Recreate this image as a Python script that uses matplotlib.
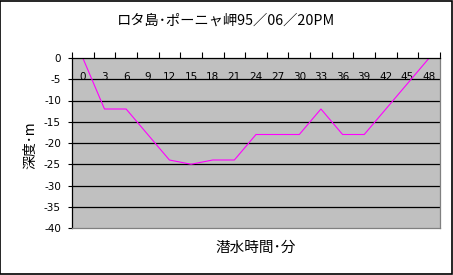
import matplotlib.pyplot as plt
from matplotlib.patches import Rectangle

# data
minutes = ["0", "3", "6", "9", "12", "15", "18", "21", "24", "27", "30",
           "33", "36", "39", "42", "45", "48"]
depth = [0, -12, -12, -18, -24, -25, -24, -24, -18, -18, -18, -12, -18,
         -18, -12, -6, 0]
y_ticks = [0, -5, -10, -15, -20, -25, -30, -35, -40]

title = "ロタ島･ポーニャ岬95／06／20PM"
xlabel = "潜水時間･分"
ylabel = "深度･m"


def main() -> None:
    plt.rcParams["font.family"] = ["Noto Sans CJK JP", "DejaVu Sans"]
    fig = plt.figure(figsize=(4.53, 2.75), dpi=100)
    fig.patch.set_facecolor("white")
    ax = fig.add_axes([72 / 453, 1 - 228 / 275, 368 / 453, 170 / 275])
    ax.set_facecolor("#C0C0C0")

    n = len(minutes)
    xs = [i + 0.5 for i in range(n)]
    ax.plot(xs, depth, color="#FF00FF", linewidth=0.8)

    ax.set_xlim(0, n)
    ax.set_ylim(-40, 0)

    # y axis
    ax.set_yticks(y_ticks)
    ax.set_yticklabels([str(v) for v in y_ticks], family="DejaVu Sans",
                       fontsize=7.5)
    ax.tick_params(axis="y", direction="out", length=3, width=0.8,
                   color="black", pad=5)
    for v in y_ticks[1:-1]:
        ax.axhline(v, color="black", linewidth=0.9, zorder=1)

    # x axis at top with category labels inside
    ax.xaxis.set_ticks_position("top")
    ax.set_xticks(range(n + 1))
    ax.set_xticklabels([])
    ax.tick_params(axis="x", which="major", direction="out", length=4,
                   width=0.8, color="black")
    ax.set_xticks(xs, minor=True)
    ax.set_xticklabels(minutes, minor=True, family="DejaVu Sans",
                       fontsize=7.5)
    ax.tick_params(axis="x", which="minor", length=0, labeltop=True,
                   labelbottom=False, pad=-17.5)

    for side in ("left", "top"):
        ax.spines[side].set_color("black")
        ax.spines[side].set_linewidth(0.9)
    for side in ("right", "bottom"):
        ax.spines[side].set_color("#808080")
        ax.spines[side].set_linewidth(0.9)

    fig.text(226.5 / 453, 1 - 21 / 275, title, ha="center", va="center",
             fontsize=10.3)
    fig.text(256 / 453, 1 - 248 / 275, xlabel, ha="center", va="center",
             fontsize=10.5)
    fig.text(30 / 453, 1 - 145 / 275, ylabel, ha="center", va="center",
             rotation=90, fontsize=10)

    fig.patches.append(Rectangle((0.001, 0.002), 0.997, 0.996,
                                 transform=fig.transFigure, fill=False,
                                 edgecolor="black", linewidth=1.2))

    fig.savefig("out.png", dpi=100)
    plt.close(fig)


if __name__ == "__main__":
    main()
